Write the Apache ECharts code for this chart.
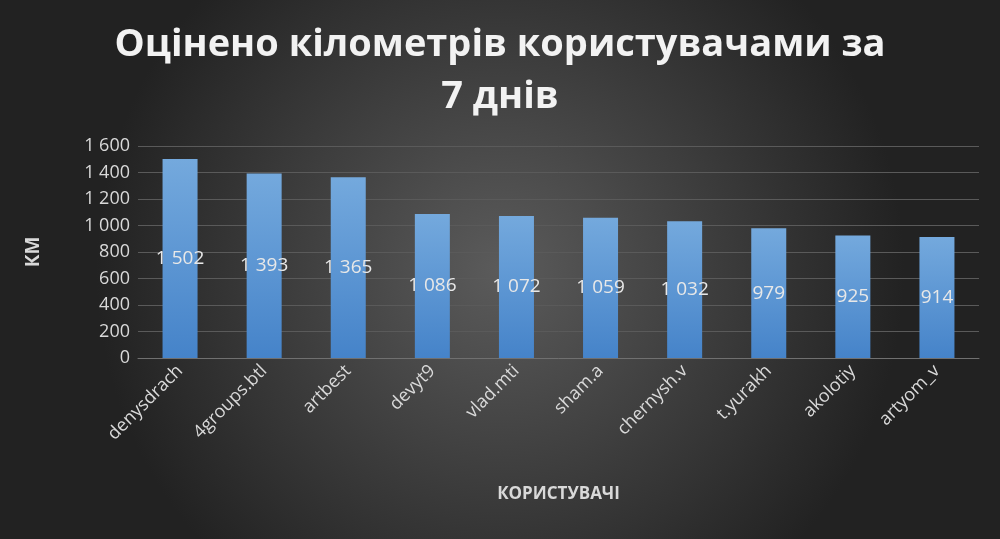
<!DOCTYPE html>
<html><head><meta charset="utf-8">
<script src="https://cdn.jsdelivr.net/npm/echarts@6/dist/echarts.min.js"></script>
<style>html,body{margin:0;padding:0;}#c{width:1000px;height:539px;}</style>
</head><body><div id="c"></div>
<script>
var users = ['denysdrach', '4groups.btl', 'artbest', 'devyt9', 'vlad.mti', 'sham.a', 'chernysh.v', 't.yurakh', 'akolotiy', 'artyom_v'];
var km = [1502, 1393, 1365, 1086, 1072, 1059, 1032, 979, 925, 914];

function fmt(v) {
    return String(v).replace(/\B(?=(\d{3})+(?!\d))/g, ' ');
}

var chart = echarts.init(document.getElementById('c'));
chart.setOption({
    backgroundColor: new echarts.graphic.RadialGradient(0.5, 0.5, 0.75, [
        {offset: 0, color: '#5b5b5b'},
        {offset: 1, color: '#222222'}
    ]),
    title: {
        text: 'Оцінено кілометрів користувачами за\n7 днів',
        left: 'center', top: 14,
        textStyle: {color: '#f2f2f2', fontSize: 38, fontWeight: 'bold',
            fontFamily: 'Open Sans', lineHeight: 52}
    },
    grid: {left: 138, right: 21, top: 146, bottom: 181},
    xAxis: {
        type: 'category', data: users,
        name: 'КОРИСТУВАЧІ', nameLocation: 'middle', nameGap: 128,
        nameTextStyle: {color: '#d9d9d9', fontSize: 17, fontWeight: 'bold', fontFamily: 'Open Sans'},
        axisLine: {lineStyle: {color: '#707070'}},
        axisTick: {show: false},
        axisLabel: {rotate: 45, color: '#d9d9d9', fontSize: 18, fontFamily: 'Open Sans', margin: 10}
    },
    yAxis: {
        type: 'value', min: 0, max: 1600, interval: 200,
        name: 'КМ', nameLocation: 'middle', nameGap: 95,
        nameTextStyle: {color: '#d9d9d9', fontSize: 19, fontWeight: 'bold', fontFamily: 'Open Sans'},
        axisLabel: {color: '#d9d9d9', fontSize: 18, fontFamily: 'Open Sans', formatter: fmt},
        splitLine: {lineStyle: {color: '#5a5a5a'}}
    },
    series: [{
        type: 'bar', data: km, barWidth: 35,
        itemStyle: {color: new echarts.graphic.LinearGradient(0, 0, 0, 1, [
            {offset: 0, color: '#74a9dd'},
            {offset: 1, color: '#4583c9'}
        ])},
        label: {show: true, position: 'inside', color: '#e8e8e8', fontSize: 19,
            fontFamily: 'Open Sans', formatter: function (p) { return fmt(p.value); }}
    }]
});
</script></body></html>
